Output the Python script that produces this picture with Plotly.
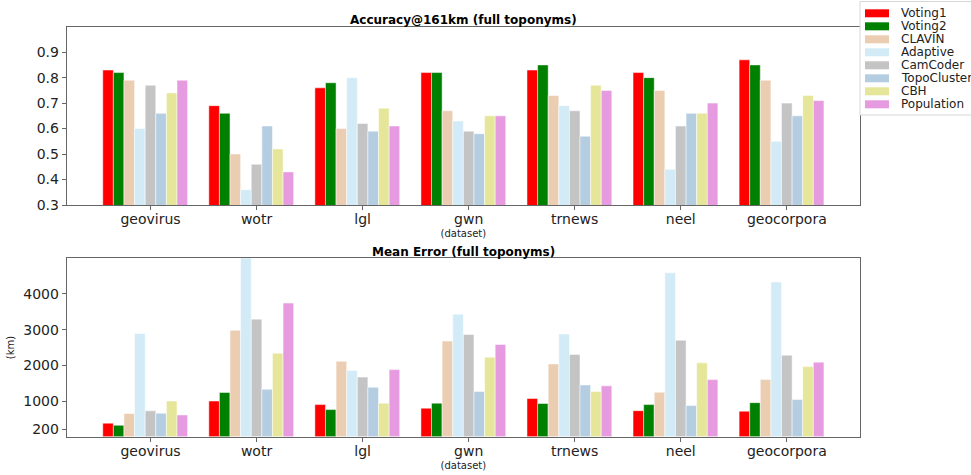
import plotly.graph_objects as go

W, H = 971, 475

datasets = ["geovirus", "wotr", "lgl", "gwn", "trnews", "neel", "geocorpora"]
methods = ["Voting1", "Voting2", "CLAVIN", "Adaptive", "CamCoder",
           "TopoCluster", "CBH", "Population"]
colors = ["#ff0000", "#008000", "#ebcdb1", "#d2ebf7", "#c4c4c4",
          "#b5cde1", "#e6e69b", "#e69be1"]

# Accuracy@161km per method, one value per dataset
acc_voting1 = [0.83, 0.69, 0.76, 0.82, 0.83, 0.82, 0.87]
acc_voting2 = [0.82, 0.66, 0.78, 0.82, 0.85, 0.80, 0.85]
acc_clavin = [0.79, 0.50, 0.60, 0.67, 0.73, 0.75, 0.79]
acc_adaptive = [0.60, 0.36, 0.80, 0.63, 0.69, 0.44, 0.55]
acc_camcoder = [0.77, 0.46, 0.62, 0.59, 0.67, 0.61, 0.70]
acc_topocluster = [0.66, 0.61, 0.59, 0.58, 0.57, 0.66, 0.65]
acc_cbh = [0.74, 0.52, 0.68, 0.65, 0.77, 0.66, 0.73]
acc_population = [0.79, 0.43, 0.61, 0.65, 0.75, 0.70, 0.71]

# Mean error (km) per method, one value per dataset
err_voting1 = [380, 1000, 900, 800, 1070, 730, 715]
err_voting2 = [320, 1240, 760, 940, 930, 900, 955]
err_clavin = [650, 2985, 2115, 2680, 2040, 1245, 1600]
err_adaptive = [2890, 5200, 1855, 3435, 2875, 4595, 4335]
err_camcoder = [725, 3295, 1670, 2865, 2305, 2705, 2285]
err_topocluster = [660, 1330, 1385, 1265, 1450, 875, 1040]
err_cbh = [1000, 2340, 940, 2230, 1265, 2070, 1965]
err_population = [610, 3745, 1880, 2585, 1425, 1600, 2090]

acc_series = [acc_voting1, acc_voting2, acc_clavin, acc_adaptive,
              acc_camcoder, acc_topocluster, acc_cbh, acc_population]
err_series = [err_voting1, err_voting2, err_clavin, err_adaptive,
              err_camcoder, err_topocluster, err_cbh, err_population]

acc_ticks = [0.3, 0.4, 0.5, 0.6, 0.7, 0.8, 0.9]
err_ticks = [200, 1000, 2000, 3000, 4000]

BAR_W = 0.1
FONT = "DejaVu Sans"
TXT = "#222222"
SPINE = "#666666"


def fx(px):
    return px / W


def fy(py):
    return 1 - py / H


fig = go.Figure()
idx = list(range(len(datasets)))
for i, name in enumerate(methods):
    xs = [k + (i - 4) * BAR_W for k in idx]
    fig.add_trace(go.Bar(x=xs, y=acc_series[i], width=BAR_W, name=name,
                         marker=dict(color=colors[i],
                                     line=dict(color="white", width=0.5)),
                         showlegend=False, xaxis="x", yaxis="y"))
    fig.add_trace(go.Bar(x=xs, y=err_series[i], width=BAR_W, name=name,
                         marker=dict(color=colors[i],
                                     line=dict(color="white", width=0.5)),
                         showlegend=False, xaxis="x2", yaxis="y2"))

x_dom = [fx(66.7), fx(860)]
axis_common = dict(showline=True, linecolor=SPINE, linewidth=1, mirror=True,
                   ticks="outside", ticklen=4, tickcolor=SPINE,
                   showgrid=False, zeroline=False,
                   tickfont=dict(family=FONT, size=14, color=TXT))
x_title = dict(text="(dataset)", standoff=4,
               font=dict(family=FONT, size=10, color=TXT))

fig.update_layout(
    width=W, height=H,
    margin=dict(l=0, r=0, t=0, b=0, autoexpand=False),
    plot_bgcolor="white", paper_bgcolor="white",
    barmode="overlay", showlegend=False,
    xaxis=dict(domain=x_dom, anchor="y", range=[-0.79, 6.69],
               tickvals=idx, ticktext=datasets, ticklabelstandoff=-3,
               title=x_title, **axis_common),
    yaxis=dict(domain=[fy(205), fy(26.7)], anchor="x", range=[0.3, 1.0],
               tickvals=acc_ticks, ticktext=[f"{v:.1f}" for v in acc_ticks],
               **axis_common),
    xaxis2=dict(domain=x_dom, anchor="y2", range=[-0.79, 6.69],
                tickvals=idx, ticktext=datasets, ticklabelstandoff=-3,
                title=x_title, **axis_common),
    yaxis2=dict(domain=[fy(436.7), fy(258.3)], anchor="x2", range=[0, 5000],
                tickvals=err_ticks, ticktext=[str(v) for v in err_ticks],
                title=dict(text="(km)", standoff=6,
                           font=dict(family=FONT, size=10, color=TXT)),
                **axis_common),
)

# subplot titles
fig.add_annotation(text="<b>Accuracy@161km (full toponyms)</b>",
                   x=fx(463), y=fy(20), xref="paper", yref="paper",
                   showarrow=False, xanchor="center", yanchor="middle",
                   font=dict(family=FONT, size=12, color="black"))
fig.add_annotation(text="<b>Mean Error (full toponyms)</b>",
                   x=fx(463), y=fy(252), xref="paper", yref="paper",
                   showarrow=False, xanchor="center", yanchor="middle",
                   font=dict(family=FONT, size=12, color="black"))

# legend box with colour swatches
fig.add_shape(type="rect", xref="paper", yref="paper",
              x0=fx(860), x1=fx(990), y0=fy(115), y1=fy(1.5),
              line=dict(color="#d6d6d6", width=1), fillcolor="white",
              layer="above")
row0, row_gap = 13.3, 13.0
for i, name in enumerate(methods):
    cy = row0 + i * row_gap
    fig.add_shape(type="rect", xref="paper", yref="paper",
                  x0=fx(865), x1=fx(889), y0=fy(cy + 4), y1=fy(cy - 4),
                  line=dict(width=0), fillcolor=colors[i], layer="above")
    fig.add_annotation(text=name, x=fx(899), y=fy(cy), xref="paper",
                       yref="paper", showarrow=False, xanchor="left",
                       yanchor="middle",
                       font=dict(family=FONT, size=12, color=TXT))

fig.write_html("out.html")
